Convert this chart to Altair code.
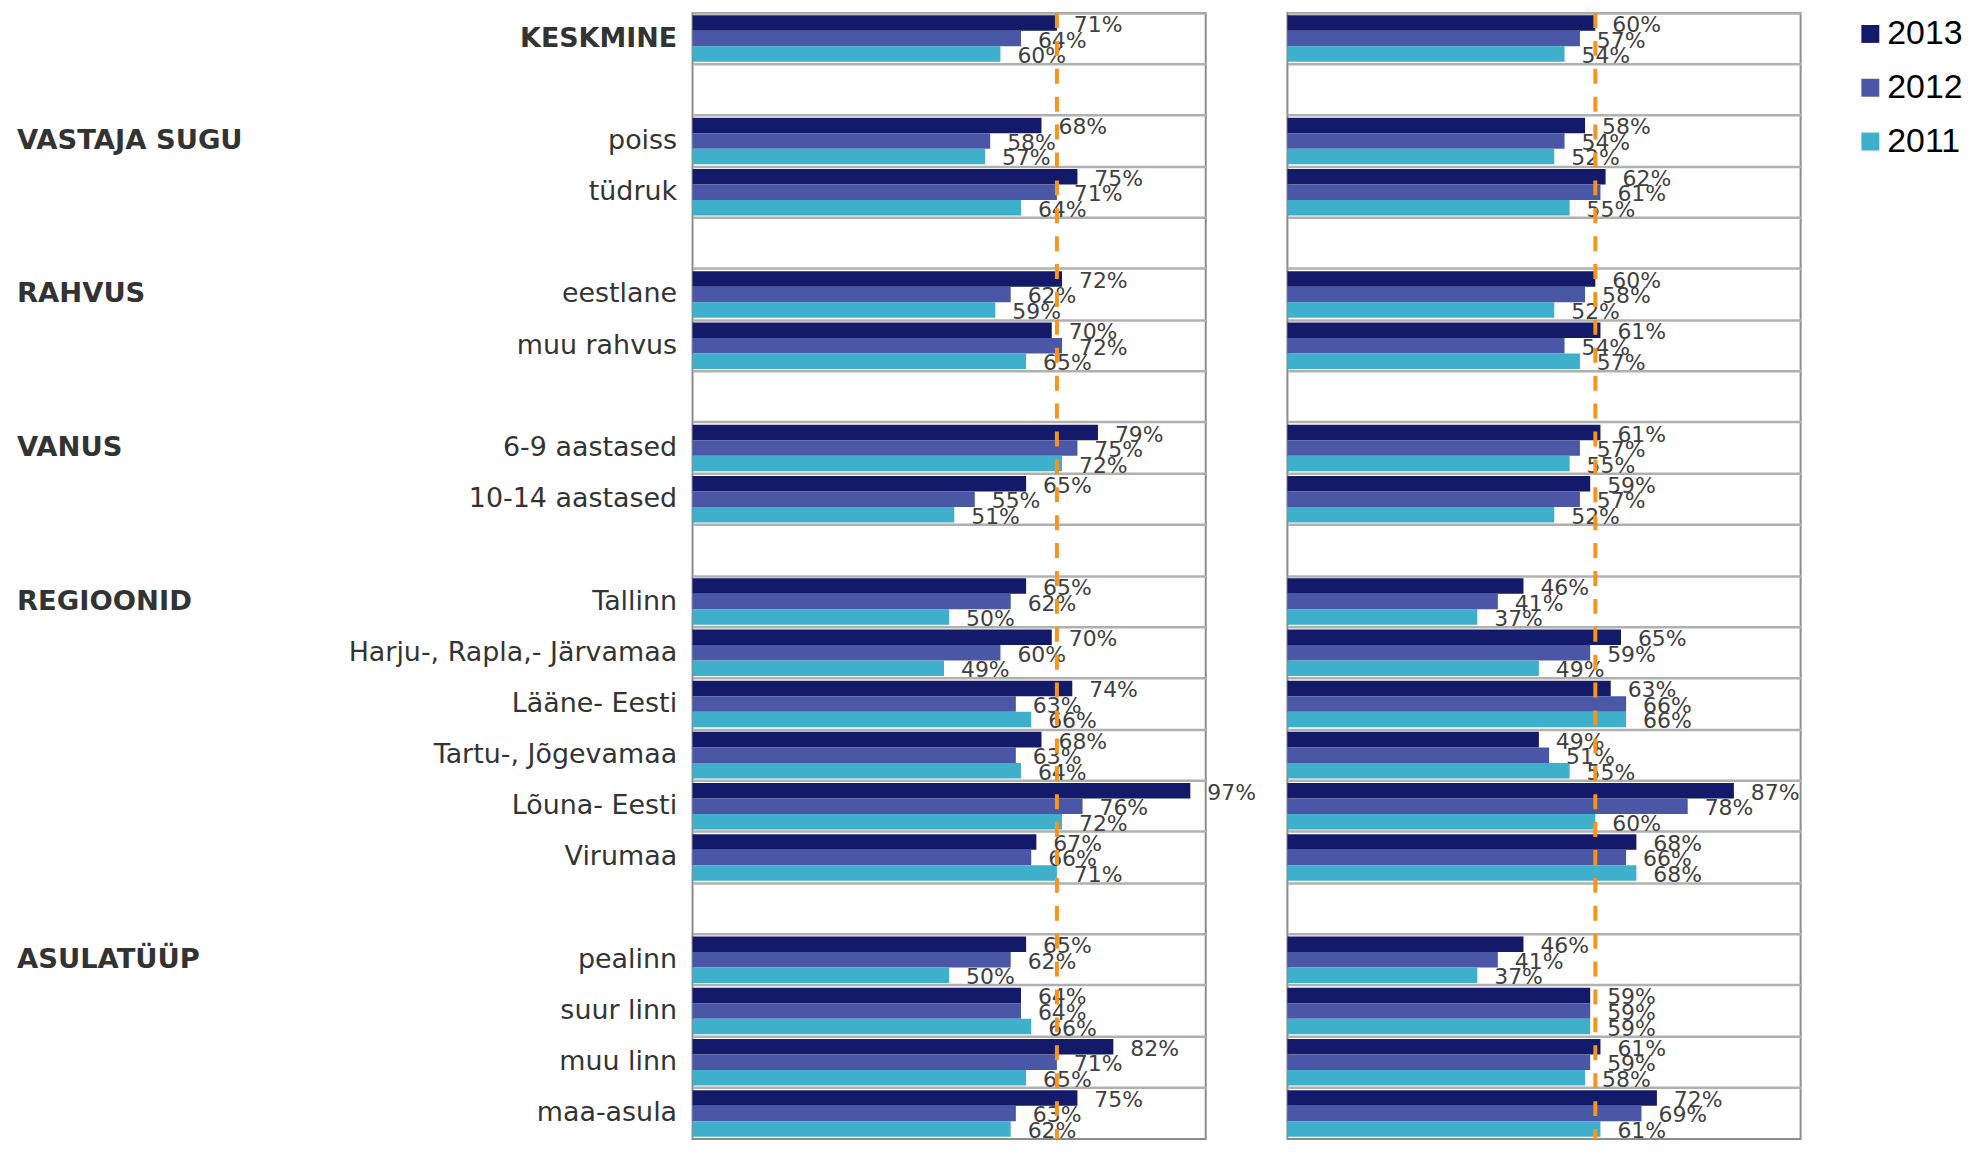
import altair as alt
import pandas as pd

years = ["2013", "2012", "2011"]
colors = ["#131A6A", "#4A56A6", "#3EB0CB"]

categories = [
    "KESKMINE", "poiss", "tüdruk", "eestlane", "muu rahvus",
    "6-9 aastased", "10-14 aastased", "Tallinn", "Harju-, Rapla,- Järvamaa",
    "Lääne- Eesti", "Tartu-, Jõgevamaa", "Lõuna- Eesti", "Virumaa",
    "pealinn", "suur linn", "muu linn", "maa-asula",
]

row_order = [
    "KESKMINE", "#1", "poiss", "tüdruk", "#2", "eestlane", "muu rahvus", "#3",
    "6-9 aastased", "10-14 aastased", "#4", "Tallinn", "Harju-, Rapla,- Järvamaa",
    "Lääne- Eesti", "Tartu-, Jõgevamaa", "Lõuna- Eesti", "Virumaa", "#5",
    "pealinn", "suur linn", "muu linn", "maa-asula",
]

group_labels = ["VASTAJA SUGU", "RAHVUS", "VANUS", "REGIOONID", "ASULATÜÜP"]
group_rows = ["poiss", "eestlane", "6-9 aastased", "Tallinn", "pealinn"]

left_2013 = [71, 68, 75, 72, 70, 79, 65, 65, 70, 74, 68, 97, 67, 65, 64, 82, 75]
left_2012 = [64, 58, 71, 62, 72, 75, 55, 62, 60, 63, 63, 76, 66, 62, 64, 71, 63]
left_2011 = [60, 57, 64, 59, 65, 72, 51, 50, 49, 66, 64, 72, 71, 50, 66, 65, 62]

right_2013 = [60, 58, 62, 60, 61, 61, 59, 46, 65, 63, 49, 87, 68, 46, 59, 61, 72]
right_2012 = [57, 54, 61, 58, 54, 57, 57, 41, 59, 66, 51, 78, 66, 41, 59, 59, 69]
right_2011 = [54, 52, 55, 52, 57, 55, 52, 37, 49, 66, 55, 60, 68, 37, 59, 58, 61]


def to_long(v13, v12, v11):
    recs = []
    for i, c in enumerate(categories):
        for y, arr in zip(years, [v13, v12, v11]):
            recs.append({"row": c, "year": y, "value": arr[i]})
    return pd.DataFrame(recs)


left_df = to_long(left_2013, left_2012, left_2011)
right_df = to_long(right_2013, right_2012, right_2011)
group_df = pd.DataFrame({"row": group_rows, "glabel": group_labels})

FONT = "DejaVu Sans"
W, H = 515, 1130


def make_panel(df, left):
    if left:
        axis = alt.Axis(
            title=None, ticks=False, domain=False, grid=True, bandPosition=0,
            gridColor="#b0b0b0", gridWidth=2.5,
            labelExpr="indexof(datum.value, '#') == 0 ? '' : datum.value",
            labelFont=FONT, labelFontSize=27, labelColor="#333333",
            labelPadding=16, labelLimit=1000,
            labelFontWeight={"condition": {"test": "datum.value == 'KESKMINE'", "value": "bold"}, "value": "normal"},
        )
    else:
        axis = alt.Axis(
            title=None, ticks=False, domain=False, grid=True, bandPosition=0,
            gridColor="#b0b0b0", gridWidth=2.5, labels=False,
        )
    y_enc = alt.Y("row:N", scale=alt.Scale(domain=row_order, paddingInner=0, paddingOuter=0), axis=axis)
    x_enc = alt.X("value:Q", scale=alt.Scale(domain=[0, 100]), axis=None)
    yoff = alt.YOffset("year:N", scale=alt.Scale(domain=years, paddingInner=0, paddingOuter=0.15))
    color = alt.Color(
        "year:N",
        scale=alt.Scale(domain=years, range=colors),
        legend=alt.Legend(
            title=None, orient="right", offset=48, symbolType="square", symbolSize=324,
            symbolStrokeWidth=0, labelFont="Liberation Sans", labelFontSize=34,
            labelColor="black", rowPadding=20, labelOffset=0, padding=4,
        ),
    )
    base = alt.Chart(df)
    bars = base.mark_bar().encode(x=x_enc, y=y_enc, yOffset=yoff, color=color)
    text = base.transform_calculate(lbl="datum.value + '%'").mark_text(
        align="left", baseline="middle", dx=17, dy=2, fontSize=22, font=FONT, color="#404040"
    ).encode(x=x_enc, y=y_enc, yOffset=yoff, text="lbl:N")
    rule = base.transform_filter("datum.row == 'KESKMINE' && datum.year == '2013'").mark_rule(
        color="#F7941D", strokeWidth=4, strokeDash=[15, 13]
    ).encode(x=x_enc)
    layers = [bars, text, rule]
    if left:
        groups = alt.Chart(group_df).mark_text(
            align="left", baseline="middle", fontSize=27.5, font=FONT, fontWeight="bold", color="#333333"
        ).encode(x=alt.value(-678), y=y_enc, text="glabel:N")
        layers.append(groups)
    return alt.layer(*layers).properties(width=W, height=H)


chart = alt.hconcat(
    make_panel(left_df, True), make_panel(right_df, False), spacing=82, bounds="flush"
).properties(
    padding={"left": 8, "top": 0, "right": 0, "bottom": 0}
).configure_view(stroke="#8c8c8c", strokeWidth=2)

chart.save("out.html", embed_options={"renderer": "svg", "actions": False})
